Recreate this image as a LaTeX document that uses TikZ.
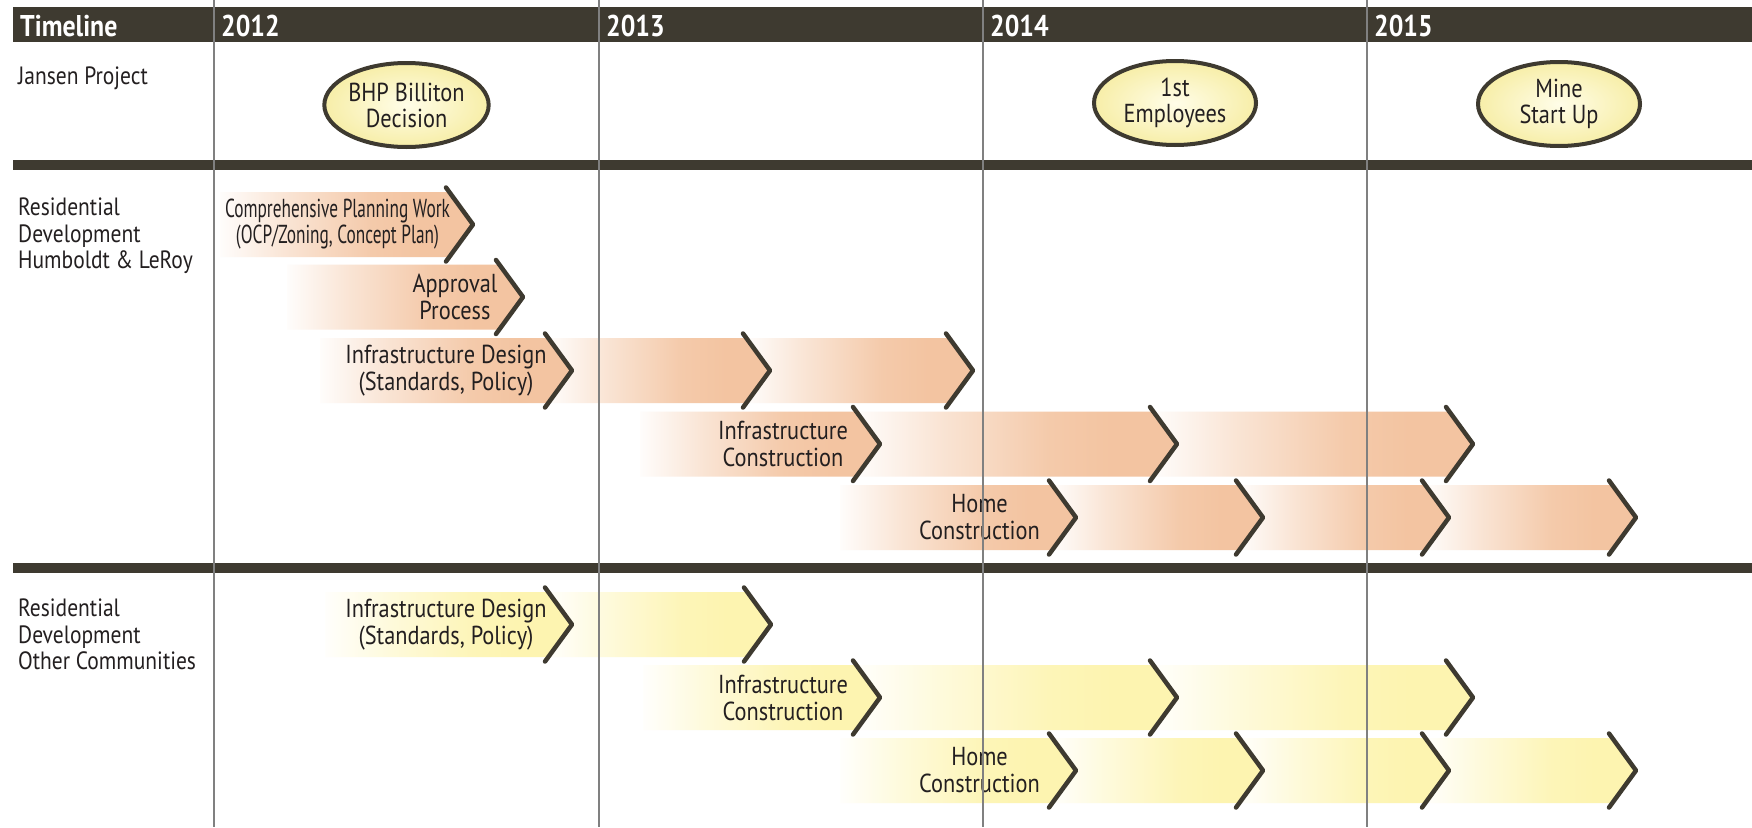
\documentclass[tikz,border=0pt]{standalone}
\usepackage{fontspec}
\setmainfont{PT Sans}[FakeStretch=0.86]
\newfontfamily\narrowfont{PT Sans}[FakeStretch=0.665]
\usetikzlibrary{shapes.geometric}
\definecolor{barcol}{RGB}{62,58,48}
\definecolor{peach}{RGB}{243,196,161}
\definecolor{lemon}{RGB}{253,244,176}
\definecolor{inkcol}{RGB}{35,31,32}
\definecolor{gridcol}{RGB}{128,128,128}
\pgfdeclarehorizontalshading{peachfade}{100bp}{color(0bp)=(peach!4); color(25bp)=(peach!4); color(38bp)=(peach!45); color(55bp)=(peach!90); color(65bp)=(peach); color(100bp)=(peach)}
\pgfdeclarehorizontalshading{lemonfade}{100bp}{color(0bp)=(lemon!4); color(25bp)=(lemon!4); color(38bp)=(lemon!45); color(55bp)=(lemon!90); color(65bp)=(lemon); color(100bp)=(lemon)}
\newcommand{\chevseg}[5]{%
  \shade[shading=#4] (#1-#5,#3-32.5) -- (#2-23.7,#3-32.5) -- (#2,#3) -- (#2-23.7,#3+32.5) -- (#1-#5,#3+32.5) -- (#1,#3) -- cycle;
  \draw[chev] (#2-27,#3-37) -- (#2,#3) -- (#2-27,#3+37);}
\begin{document}
\begin{tikzpicture}[x=1pt, y=-1pt,
  chev/.style={draw=barcol, line width=4.5pt, line join=round, line cap=round},
  gridline/.style={draw=gridcol, line width=1.4pt},
  yearlbl/.style={anchor=base west, inner sep=0, text=white, font=\fontsize{30}{32}\selectfont\bfseries},
  rowlbl/.style={anchor=north west, inner sep=0, align=left, text=inkcol, font=\fontsize{25}{26.5}\selectfont},
  tasklbl/.style={inner sep=0, align=center, text=inkcol, font=\fontsize{26}{27}\selectfont},
  event/.style={ellipse, draw=barcol, line width=4pt, inner color={rgb,255:red,255;green,253;blue,232}, outer color={rgb,255:red,247;green,238;blue,168}, minimum width=162pt, minimum height=84pt, inner sep=0, align=center, text=inkcol, font=\fontsize{26}{26}\selectfont}]
\useasboundingbox (0,0) rectangle (1752,827);
\fill[white] (0,0) rectangle (1752,827);
\fill[barcol] (13,7) rectangle (1752,42);
\fill[barcol] (13,160) rectangle (1752,170);
\fill[barcol] (13,563) rectangle (1752,573);
\node[yearlbl] (hdr) at (20,36.5) {Timeline};
\node[yearlbl] (y2012) at (221,36.5) {2012};
\node[yearlbl] (y2013) at (606,36.5) {2013};
\node[yearlbl] (y2014) at (990,36.5) {2014};
\node[yearlbl] (y2015) at (1374,36.5) {2015};
\node[rowlbl] (jansen) at (18,67) {Jansen Project};
\node[rowlbl] (hlrow) at (18,198) {Residential\\Development\\Humboldt \& LeRoy};
\node[rowlbl] (ocrow) at (18,599) {Residential\\Development\\Other Communities};
\chevseg{220}{473}{224.5}{peachfade}{0}
\chevseg{287}{523}{297}{peachfade}{0}
\chevseg{770}{973}{370.5}{peachfade}{23.7}
\chevseg{572}{770}{370.5}{peachfade}{23.7}
\chevseg{320}{572}{370.5}{peachfade}{0}
\chevseg{1177}{1473}{444}{peachfade}{23.7}
\chevseg{880}{1177}{444}{peachfade}{23.7}
\chevseg{640}{880}{444}{peachfade}{0}
\chevseg{1449}{1636}{517.5}{peachfade}{23.7}
\chevseg{1263}{1449}{517.5}{peachfade}{23.7}
\chevseg{1076}{1263}{517.5}{peachfade}{23.7}
\chevseg{840}{1076}{517.5}{peachfade}{0}
\chevseg{572}{771}{624.5}{lemonfade}{23.7}
\chevseg{325}{572}{624.5}{lemonfade}{0}
\chevseg{1177}{1473}{697.5}{lemonfade}{23.7}
\chevseg{880}{1177}{697.5}{lemonfade}{23.7}
\chevseg{643}{880}{697.5}{lemonfade}{0}
\chevseg{1449}{1636}{770.5}{lemonfade}{23.7}
\chevseg{1263}{1449}{770.5}{lemonfade}{23.7}
\chevseg{1076}{1263}{770.5}{lemonfade}{23.7}
\chevseg{840}{1076}{770.5}{lemonfade}{0}
\node[tasklbl, font=\narrowfont\fontsize{26}{26}\selectfont] (hlplan) at (337.5,224) {Comprehensive Planning Work\\(OCP/Zoning, Concept Plan)};
\node[tasklbl] (hlapprove) at (455,297) {Approval\\Process};
\node[tasklbl] (hldesign) at (446,370.5) {Infrastructure Design\\(Standards, Policy)};
\node[tasklbl] (hlbuild) at (783,444) {Infrastructure\\Construction};
\node[tasklbl] (hlhome) at (979.5,517.5) {Home\\Construction};
\node[tasklbl] (ocdesign) at (446,624.5) {Infrastructure Design\\(Standards, Policy)};
\node[tasklbl] (ocbuild) at (783,697.5) {Infrastructure\\Construction};
\node[tasklbl] (ochome) at (979.5,770.5) {Home\\Construction};
\draw[gridline] (214,0) -- (214,827);
\draw[gridline] (599,0) -- (599,827);
\draw[gridline] (983,0) -- (983,827);
\draw[gridline] (1367,0) -- (1367,827);
\node[event] (bhp) at (406.5,105) {BHP Billiton\\Decision};
\node[event] (firstemp) at (1175,103) {1st\\Employees};
\node[event] (minestart) at (1559,104) {Mine\\Start Up};
\end{tikzpicture}
\end{document}
